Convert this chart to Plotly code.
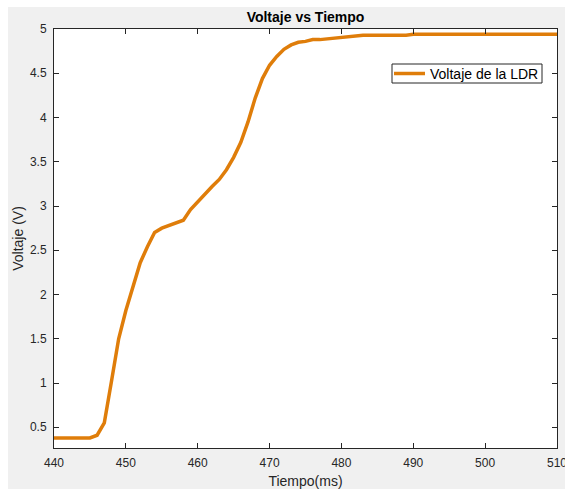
import plotly.graph_objects as go

# Time samples (ms) and measured LDR voltage (V)
tiempo_ms = list(range(440, 511))
voltaje_v = [
    0.38, 0.38, 0.38, 0.38, 0.38, 0.38,   # 440-445
    0.41, 0.55, 1.02, 1.50, 1.82,         # 446-450
    2.09, 2.36, 2.54, 2.70, 2.75,         # 451-455
    2.78, 2.81, 2.84, 2.96, 3.05,         # 456-460
    3.14, 3.22, 3.30, 3.41, 3.55,         # 461-465
    3.72, 3.95, 4.22, 4.44, 4.59,         # 466-470
    4.69, 4.77, 4.82, 4.85, 4.86,         # 471-475
    4.88, 4.88, 4.89, 4.90, 4.90,         # 476-480
    4.91, 4.92, 4.93, 4.93, 4.93,         # 481-485
    4.93, 4.93, 4.93, 4.93, 4.94,         # 486-490
] + [4.94] * 20                           # 491-510

x_ticks = [440, 450, 460, 470, 480, 490, 500, 510]
y_ticks = [0.5, 1, 1.5, 2, 2.5, 3, 3.5, 4, 4.5, 5]
y_tick_text = ["0.5", "1", "1.5", "2", "2.5", "3", "3.5", "4", "4.5", "5"]
series_name = "Voltaje de la LDR"

FONT = "Liberation Sans, Arial, sans-serif"
AX = "#262626"
ORANGE = "#DF7D0A"

W, H = 565, 489
L, R, T, B = 54, 8, 29, 41
pw, ph = W - L - R, H - T - B


def px_x(p):
    return (p - L) / pw


def px_y(p):
    return (H - B - p) / ph


fig = go.Figure()
fig.add_trace(go.Scatter(
    x=tiempo_ms, y=voltaje_v, mode="lines", name=series_name,
    line=dict(color=ORANGE, width=3.5), showlegend=False,
))

axis_common = dict(
    showline=True, linecolor=AX, linewidth=1, mirror="ticks",
    ticks="inside", ticklen=5, tickwidth=1, tickcolor=AX,
    showgrid=False, zeroline=False, ticklabeloverflow="allow",
    automargin=False,
    tickfont=dict(family=FONT, size=12, color=AX),
)

# Boxed legend in the upper right of the axes
leg_x0, leg_x1, leg_y0, leg_y1 = 392, 542, 64, 83
leg_mid = (leg_y0 + leg_y1) / 2

fig.update_layout(
    width=W, height=H,
    margin=dict(l=L, r=R, t=T, b=B, autoexpand=False),
    paper_bgcolor="#f0f0f0", plot_bgcolor="white",
    title=dict(text="<b>Voltaje vs Tiempo</b>", x=px_x(305.5), xref="paper",
               xanchor="center", y=1 - 17 / H, yanchor="middle",
               font=dict(family=FONT, size=14, color="#000000")),
    xaxis=dict(range=[440, 510], tickvals=x_ticks, ticklabelstandoff=4,
               title=dict(text="Tiempo(ms)", standoff=10,
                          font=dict(family=FONT, size=14, color=AX)),
               **axis_common),
    yaxis=dict(range=[0.266, 5], tickvals=y_ticks, ticktext=y_tick_text,
               ticklabelstandoff=4,
               title=dict(text="Voltaje (V)", standoff=3,
                          font=dict(family=FONT, size=14, color=AX)),
               **axis_common),
    showlegend=False,
    shapes=[
        dict(type="rect", xref="paper", yref="paper", layer="below",
             x0=px_x(0), x1=px_x(W), y0=px_y(7), y1=px_y(0),
             fillcolor="white", line=dict(width=0)),
        dict(type="rect", xref="paper", yref="paper", layer="below",
             x0=px_x(0), x1=px_x(8), y0=px_y(H), y1=px_y(0),
             fillcolor="white", line=dict(width=0)),
        dict(type="rect", xref="paper", yref="paper", layer="above",
             x0=px_x(leg_x0), x1=px_x(leg_x1),
             y0=px_y(leg_y1), y1=px_y(leg_y0),
             fillcolor="white", line=dict(color=AX, width=1)),
        dict(type="line", xref="paper", yref="paper", layer="above",
             x0=px_x(394), x1=px_x(425), y0=px_y(leg_mid), y1=px_y(leg_mid),
             line=dict(color=ORANGE, width=3.5)),
    ],
    annotations=[
        dict(text=series_name, xref="paper", yref="paper",
             x=px_x(428), y=px_y(leg_mid), xanchor="left", yanchor="middle",
             showarrow=False,
             font=dict(family=FONT, size=14, color="#000000")),
    ],
)

fig.write_html("out.html")
